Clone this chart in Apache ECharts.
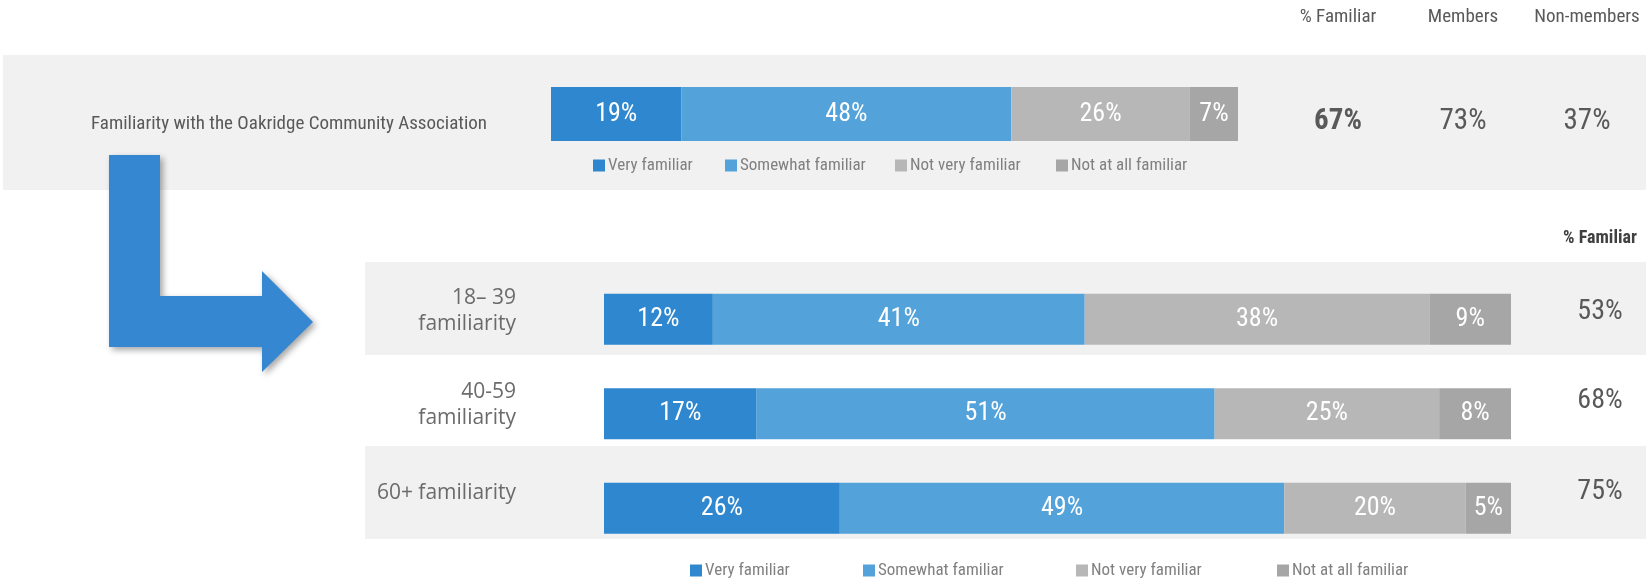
<!DOCTYPE html>
<html>
<head>
<meta charset="utf-8">
<script src="https://cdn.jsdelivr.net/npm/echarts@6/dist/echarts.min.js"></script>
<style>
html,body{margin:0;padding:0;background:#fff;}
#chart{width:1646px;height:581px;}
</style>
</head>
<body>
<div id="chart"></div>
<script>
// ---- data ----
const seriesNames = ['Very familiar', 'Somewhat familiar', 'Not very familiar', 'Not at all familiar'];
const overallLabel = 'Familiarity with the Oakridge Community Association';
const overallValues = [19, 48, 26, 7];
const topHeaders = ['% Familiar', 'Members', 'Non-members'];
const topValues = ['67%', '73%', '37%'];
const ageCategories = ['18\u2013 39\nfamiliarity', '40-59\nfamiliarity', '60+ familiarity'];
const veryFamiliar = [12, 17, 26];
const somewhatFamiliar = [41, 51, 49];
const notVeryFamiliar = [38, 25, 20];
const notAtAllFamiliar = [9, 8, 5];
const ageHeader = '% Familiar';
const agePctFamiliar = ['53%', '68%', '75%'];

// ---- styles ----
const colors = ['#2e87cf', '#53a2d9', '#b7b7b7', '#a6a6a6'];
const condensed = '"Roboto Condensed", "Liberation Sans Narrow", sans-serif';
const ageSeries = [veryFamiliar, somewhatFamiliar, notVeryFamiliar, notAtAllFamiliar];
const rowSums = ageCategories.map((_, i) => ageSeries.reduce((s, arr) => s + arr[i], 0));
const overallSum = overallValues.reduce((a, b) => a + b, 0);

const chart = echarts.init(document.getElementById('chart'));

const labelStyle = {
  show: true, position: 'inside', color: '#fff',
  fontFamily: condensed, fontSize: 26,
  formatter: p => p.data.raw + '%'
};

const series = [];
seriesNames.forEach((name, k) => {
  series.push({
    name, type: 'bar', stack: 'top', xAxisIndex: 0, yAxisIndex: 0,
    barWidth: 54, itemStyle: { color: colors[k] },
    label: labelStyle,
    data: [{ value: overallValues[k] / overallSum * 100, raw: overallValues[k] }]
  });
});
seriesNames.forEach((name, k) => {
  series.push({
    name, type: 'bar', stack: 'age', xAxisIndex: 1, yAxisIndex: 1,
    barWidth: 51, itemStyle: { color: colors[k] },
    label: labelStyle,
    data: ageSeries[k].map((v, i) => ({ value: v / rowSums[i] * 100, raw: v }))
  });
});

// legends (one component per item for exact placement)
const topLegendX = [593, 725, 895, 1056];
const botLegendX = [690, 863, 1076, 1277];
const legendText = { color: '#808080', fontFamily: condensed, fontSize: 17, padding: [0, 0, 0, -2] };
const legends = [];
seriesNames.forEach((name, k) => {
  legends.push({ data: [name], left: topLegendX[k], top: 157, padding: 0, icon: 'rect',
    itemWidth: 12, itemHeight: 12, itemGap: 4, selectedMode: false, textStyle: legendText });
  legends.push({ data: [name], left: botLegendX[k], top: 562, padding: 0, icon: 'rect',
    itemWidth: 12, itemHeight: 12, itemGap: 4, selectedMode: false, textStyle: legendText });
});

// graphics
const headerX = [1338, 1463, 1587];
const rowValueY = [312, 401, 492];
const graphics = [
  { type: 'rect', shape: { x: 3, y: 55, width: 1643, height: 135 }, style: { fill: '#f1f1f1' }, z: -10 },
  { type: 'rect', shape: { x: 365, y: 262, width: 1281, height: 93 }, style: { fill: '#f1f1f1' }, z: -10 },
  { type: 'rect', shape: { x: 365, y: 446, width: 1281, height: 93 }, style: { fill: '#f1f1f1' }, z: -10 },
  { type: 'polygon', z: 20,
    shape: { points: [[109,155],[160,155],[160,296],[262,296],[262,271],[313,322],[262,372],[262,347],[109,347]] },
    style: { fill: '#3487d0', shadowBlur: 6, shadowOffsetX: 3, shadowOffsetY: 3, shadowColor: 'rgba(0,0,0,0.35)' } },
  { type: 'text', x: 289, y: 124, style: { text: overallLabel, align: 'center', verticalAlign: 'middle',
      fill: '#595959', fontFamily: condensed, fontSize: 19 } },
  { type: 'text', x: 1600, y: 238, style: { text: ageHeader, align: 'center', verticalAlign: 'middle',
      fill: '#404040', fontFamily: condensed, fontSize: 18, fontWeight: 'bold' } }
];
topHeaders.forEach((t, i) => graphics.push({ type: 'text', x: headerX[i], y: 17,
  style: { text: t, align: 'center', verticalAlign: 'middle', fill: '#595959', fontFamily: condensed, fontSize: 19 } }));
topValues.forEach((t, i) => graphics.push({ type: 'text', x: headerX[i], y: 122,
  style: { text: t, align: 'center', verticalAlign: 'middle', fill: '#595959', fontFamily: condensed, fontSize: 29,
    fontWeight: i === 0 ? 'bold' : 'normal' } }));
agePctFamiliar.forEach((t, i) => graphics.push({ type: 'text', x: 1600, y: rowValueY[i],
  style: { text: t, align: 'center', verticalAlign: 'middle', fill: '#595959', fontFamily: condensed, fontSize: 28 } }));

chart.setOption({
  animation: false,
  color: colors,
  legend: legends,
  grid: [
    { left: 551, width: 687, top: 87, height: 54 },
    { left: 604, width: 907, top: 272, height: 283.5 }
  ],
  xAxis: [
    { gridIndex: 0, type: 'value', min: 0, max: 100, show: false },
    { gridIndex: 1, type: 'value', min: 0, max: 100, show: false }
  ],
  yAxis: [
    { gridIndex: 0, type: 'category', data: ['overall'], show: false },
    { gridIndex: 1, type: 'category', data: ageCategories, inverse: true,
      axisLine: { show: false }, axisTick: { show: false }, splitLine: { show: false },
      axisLabel: { margin: 88, align: 'right', color: '#6b6b6b', fontFamily: '"Open Sans", sans-serif',
        fontSize: 21, lineHeight: 26, padding: [0, 0, 17, 0],
        formatter: v => v.indexOf('\n') >= 0 ? v : '{s|' + v + '}',
        rich: { s: { color: '#6b6b6b', fontFamily: '"Open Sans", sans-serif', fontSize: 21, lineHeight: 26, padding: [0, 0, 13, 0] } } } }
  ],
  graphic: graphics,
  series
});
</script>
</body>
</html>
